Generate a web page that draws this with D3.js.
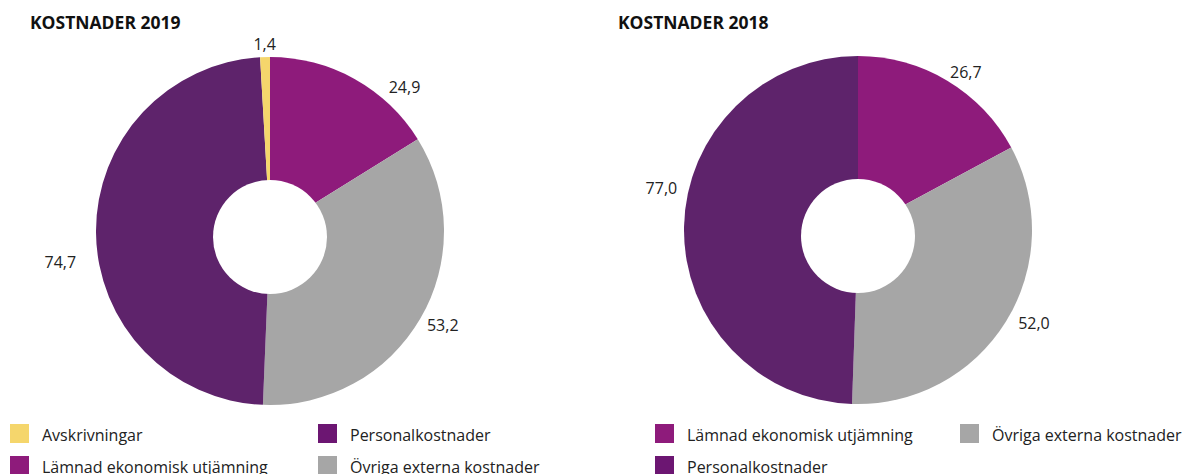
<!DOCTYPE html>
<html>
<head>
<meta charset="utf-8">
<script src="https://cdn.jsdelivr.net/npm/d3@7"></script>
<style>
  body { margin: 0; background: #fff; }
  svg { font-family: "Open Sans", sans-serif; }
</style>
</head>
<body>
<div id="chart"></div>
<script>
// Data
const categories = ["Avskrivningar", "Lämnad ekonomisk utjämning", "Övriga externa kostnader", "Personalkostnader"];
const values2019 = [1.4, 24.9, 53.2, 74.7];
const categories2018 = ["Lämnad ekonomisk utjämning", "Övriga externa kostnader", "Personalkostnader"];
const values2018 = [26.7, 52.0, 77.0];
const legend2019 = ["Avskrivningar", "Personalkostnader", "Lämnad ekonomisk utjämning", "Övriga externa kostnader"];
const legend2018 = ["Lämnad ekonomisk utjämning", "Övriga externa kostnader", "Personalkostnader"];

// Colours
const sliceColor = {
    "Avskrivningar": "#f5d66c",
    "Lämnad ekonomisk utjämning": "#8e1b7b",
    "Övriga externa kostnader": "#a6a6a6",
    "Personalkostnader": "#5e236b"
};
const legendColor = Object.assign({}, sliceColor, { "Personalkostnader": "#6c1672" });

// Slice order, clockwise from 12 o'clock
const order2019 = ["Lämnad ekonomisk utjämning", "Övriga externa kostnader", "Personalkostnader", "Avskrivningar"];
const order2018 = ["Lämnad ekonomisk utjämning", "Övriga externa kostnader", "Personalkostnader"];

// Label nudges (degrees, extra radius) - labels were hand-placed in the original
const nudge2019 = { "Avskrivningar": [0, -10], "Lämnad ekonomisk utjämning": [14, 0], "Övriga externa kostnader": [-1.5, 0], "Personalkostnader": [-8, 15] };
const nudge2018 = { "Lämnad ekonomisk utjämning": [3.5, -6], "Övriga externa kostnader": [-4, 2], "Personalkostnader": [11, 4] };

const width = 1187;
const height = 474;
const radius = 174;
const holeRadius = 57;

const svg = d3.select("#chart")
    .append("svg")
    .attr("width", width)
    .attr("height", height);

const fmt = (v) => d3.format(".1f")(v).replace(".", ",");

function drawDonut(cx, cy, cats, vals, order, nudge, title) {
    const data = cats.map((c, i) => ({ cat: c, value: vals[i] }));
    data.sort((a, b) => order.indexOf(a.cat) - order.indexOf(b.cat));

    const pie = d3.pie().sort(null).value((d) => d.value);
    const arc = d3.arc().innerRadius(0).outerRadius(radius);
    const arcs = pie(data);

    const g = svg.append("g").attr("transform", `translate(${cx},${cy})`);

    g.selectAll("path")
        .data(arcs)
        .enter()
        .append("path")
        .attr("d", arc)
        .attr("fill", (d) => sliceColor[d.data.cat]);

    // hole sits a bit below the centre in the original
    g.append("circle")
        .attr("cx", 0)
        .attr("cy", 6)
        .attr("r", holeRadius)
        .attr("fill", "#fff");

    g.selectAll("text.lbl")
        .data(arcs)
        .enter()
        .append("text")
        .attr("class", "lbl")
        .attr("transform", (d) => {
            const n = nudge[d.data.cat] || [0, 0];
            const a = (d.startAngle + d.endAngle) / 2 + n[0] * Math.PI / 180;
            const r = radius + 23 + n[1];
            return `translate(${r * Math.sin(a)},${-r * Math.cos(a)})`;
        })
        .attr("text-anchor", "middle")
        .attr("dy", "0.35em")
        .style("font-size", "16px")
        .style("fill", "#222")
        .text((d) => fmt(d.data.value));

    svg.append("text")
        .attr("x", cx - 240)
        .attr("y", 29)
        .style("font-size", "17.5px")
        .style("font-weight", "bold")
        .style("fill", "#111")
        .text(title);
}

function drawLegend(x0, items, colGap) {
    const g = svg.append("g").attr("transform", `translate(${x0},424)`);
    const item = g.selectAll("g")
        .data(items)
        .enter()
        .append("g")
        .attr("transform", (d, i) => `translate(${(i % 2) * colGap},${Math.floor(i / 2) * 32})`);
    item.append("rect")
        .attr("width", 19)
        .attr("height", 19)
        .attr("fill", (d) => legendColor[d]);
    item.append("text")
        .attr("x", 32)
        .attr("y", 17)
        .style("font-size", "16px")
        .style("fill", "#222")
        .text((d) => d);
}

drawDonut(270, 231, categories, values2019, order2019, nudge2019, "KOSTNADER 2019");
drawDonut(858, 230, categories2018, values2018, order2018, nudge2018, "KOSTNADER 2018");
drawLegend(10, legend2019, 308);
drawLegend(655, legend2018, 305);
</script>
</body>
</html>
